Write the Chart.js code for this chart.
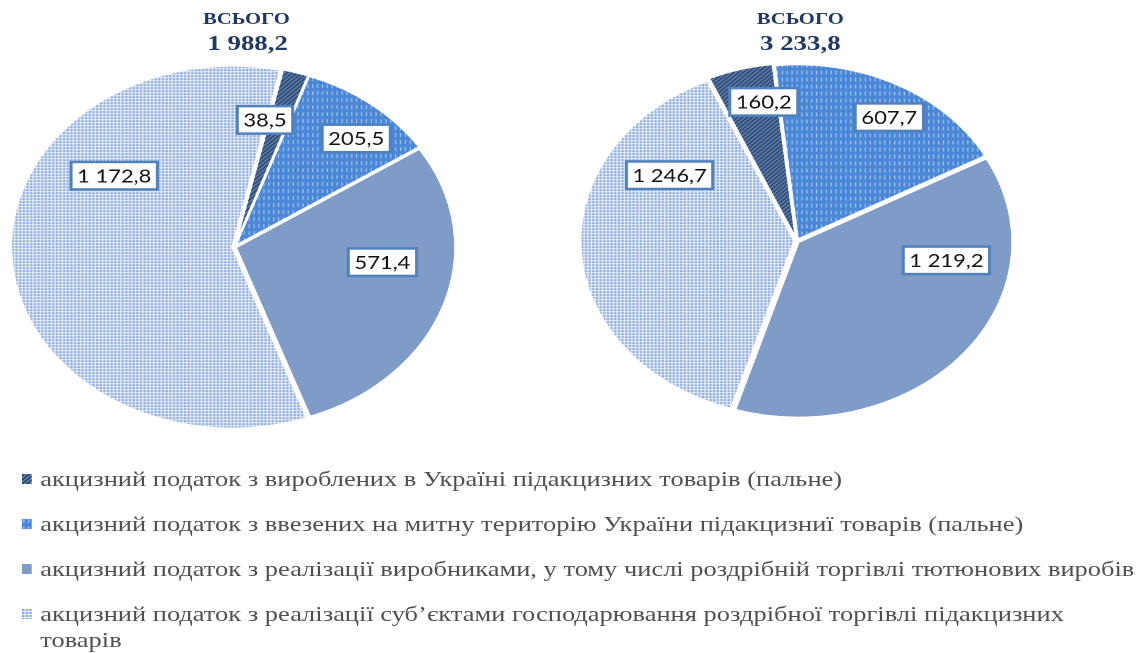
<!DOCTYPE html>
<html>
<head>
<meta charset="utf-8">
<script src="https://cdn.jsdelivr.net/npm/chart.js@4.4.1/dist/chart.umd.min.js"></script>
<style>
html,body{margin:0;padding:0;background:#fff;overflow:hidden;width:1136px;height:653px}
#stage{position:absolute;left:0;top:0;width:931px;height:653px;transform:scaleX(1.22);transform-origin:0 0}
canvas.pie{position:absolute}
.ttl{position:absolute;transform:translateX(-50%);font-family:"Liberation Serif","Times New Roman",serif;font-weight:bold;color:#1F3864;white-space:nowrap;line-height:1}
#legend{position:absolute;left:17px;top:466px;font-family:"Liberation Serif","Times New Roman",serif;font-size:21.7px;line-height:26px;color:#505050}
.item{position:relative;padding-left:16px;margin-bottom:19px}
.item canvas{position:absolute;left:1px;top:8px;width:8px;height:10px}
</style>
</head>
<body>
<div id="stage">
  <div class="ttl" id="t1a" style="left:202px;top:9.5px;font-size:17px"></div>
  <div class="ttl" id="t1b" style="left:203px;top:32px;font-size:22px"></div>
  <div class="ttl" id="t2a" style="left:656px;top:9.5px;font-size:17px"></div>
  <div class="ttl" id="t2b" style="left:656px;top:32px;font-size:22px"></div>
  <canvas class="pie" id="pieL" width="380" height="380" style="left:2px;top:57px;width:380px;height:380px"></canvas>
  <canvas class="pie" id="pieR" width="380" height="380" style="left:463px;top:51px;width:380px;height:380px"></canvas>
  <div id="legend"></div>
</div>
<script>
// ---- data ----
const categories = [
  'акцизний податок з вироблених в Україні підакцизних товарів (пальне)',
  'акцизний податок з ввезених на митну територію України підакцизниї товарів (пальне)',
  'акцизний податок з реалізації виробниками, у тому числі роздрібній торгівлі тютюнових виробів',
  'акцизний податок з реалізації суб\u2019єктами господарювання роздрібної торгівлі підакцизних товарів'
];
const leftValues  = [38.5, 205.5, 571.4, 1172.8];
const rightValues = [160.2, 607.7, 1219.2, 1246.7];
const totalLabel = 'ВСЬОГО';

// ---- helpers ----
function fmt(v){
  const parts = v.toFixed(1).split('.');
  const grouped = parts[0].replace(/\B(?=(\d{3})+(?!\d))/g, ' ');
  return grouped + ',' + parts[1];
}
function tile(w, h, draw){
  const c = document.createElement('canvas');
  c.width = w; c.height = h;
  const g = c.getContext('2d');
  draw(g, w, h);
  return g.createPattern(c, 'repeat');
}
const patDark = tile(4, 4, (g) => {
  g.fillStyle = '#22406A'; g.fillRect(0, 0, 4, 4);
  g.strokeStyle = '#7F9DC6'; g.lineWidth = 1.1;
  g.beginPath();
  g.moveTo(-1, 5); g.lineTo(5, -1);
  g.moveTo(-1, 1); g.lineTo(1, -1);
  g.moveTo(3, 5); g.lineTo(5, 3);
  g.stroke();
});
const patBlue = tile(4, 7, (g) => {
  g.fillStyle = '#4A87D6'; g.fillRect(0, 0, 4, 7);
  g.fillStyle = 'rgba(200,222,248,0.7)'; g.fillRect(1, 0, 1, 4);
});
const solidMid = '#7F9BC8';
const patLight = tile(3, 3, (g) => {
  g.fillStyle = '#EAF0FA'; g.fillRect(0, 0, 3, 3);
  g.fillStyle = '#8AA9DC'; g.fillRect(0, 0, 2, 2);
});
const fills = [patDark, patBlue, solidMid, patLight];

// ---- titles ----
const sum = a => a.reduce((s, v) => s + v, 0);
document.getElementById('t1a').textContent = totalLabel;
document.getElementById('t1b').textContent = fmt(sum(leftValues));
document.getElementById('t2a').textContent = totalLabel;
document.getElementById('t2b').textContent = fmt(sum(rightValues));

// ---- boxed data labels ----
const boxLabels = {
  id: 'boxLabels',
  afterDatasetsDraw(chart, args, opts){
    const ctx = chart.ctx;
    const meta = chart.getDatasetMeta(0);
    const data = chart.data.datasets[0].data;
    meta.data.forEach((arc, i) => {
      const p = opts.place[i];
      const {x, y, startAngle, endAngle, outerRadius} =
        arc.getProps(['x', 'y', 'startAngle', 'endAngle', 'outerRadius'], true);
      const a = startAngle + p.t * (endAngle - startAngle);
      const r = outerRadius * p.r;
      const lx = x + Math.cos(a) * r, ly = y + Math.sin(a) * r;
      const text = fmt(data[i]);
      ctx.save();
      ctx.font = '18px Lato, "Open Sans", sans-serif';
      const w = ctx.measureText(text).width + 10, h = 27.5;
      ctx.fillStyle = '#ffffff';
      ctx.fillRect(lx - w / 2, ly - h / 2, w, h);
      ctx.lineWidth = 2.5;
      ctx.strokeStyle = '#4F81BD';
      ctx.strokeRect(lx - w / 2, ly - h / 2, w, h);
      ctx.fillStyle = '#111111';
      ctx.textAlign = 'center';
      ctx.textBaseline = 'middle';
      ctx.fillText(text, lx, ly + 1);
      ctx.restore();
    });
  }
};

function makePie(id, values, rotation, radius, offsets, place){
  return new Chart(document.getElementById(id), {
    type: 'pie',
    data: {
      labels: categories,
      datasets: [{
        data: values,
        backgroundColor: fills,
        borderColor: '#ffffff',
        borderWidth: 2,
        offset: offsets,
        hoverOffset: 0,
        radius: radius,
        clip: false
      }]
    },
    options: {
      responsive: false,
      animation: false,
      devicePixelRatio: 2,
      rotation: rotation,
      events: [],
      layout: {padding: 0},
      plugins: {
        legend: {display: false},
        tooltip: {enabled: false},
        boxLabels: {place: place}
      }
    },
    plugins: [boxLabels]
  });
}

makePie('pieL', leftValues, 12.6, 180, [4, 5, 5, 6], [
  {t: -0.2, r: 0.72}, {t: 0.62, r: 0.82}, {t: 0.39, r: 0.68}, {t: 0.686, r: 0.675}
]);
makePie('pieR', rightValues, -24, 175, [7, 7, 7, 7], [
  {t: 0.73, r: 0.81}, {t: 0.557, r: 0.83}, {t: 0.276, r: 0.71}, {t: 0.757, r: 0.704}
]);

// ---- legend ----
const legend = document.getElementById('legend');
categories.forEach((name, i) => {
  const item = document.createElement('div');
  item.className = 'item';
  const m = document.createElement('canvas');
  m.width = 8; m.height = 10;
  const g = m.getContext('2d');
  g.fillStyle = fills[i]; g.fillRect(0, 0, 8, 10);
  item.appendChild(m);
  const span = document.createElement('span');
  span.textContent = name;
  item.appendChild(span);
  if (i < 3) item.style.whiteSpace = 'nowrap';
  else item.style.width = '880px';
  legend.appendChild(item);
});
</script>
</body>
</html>
